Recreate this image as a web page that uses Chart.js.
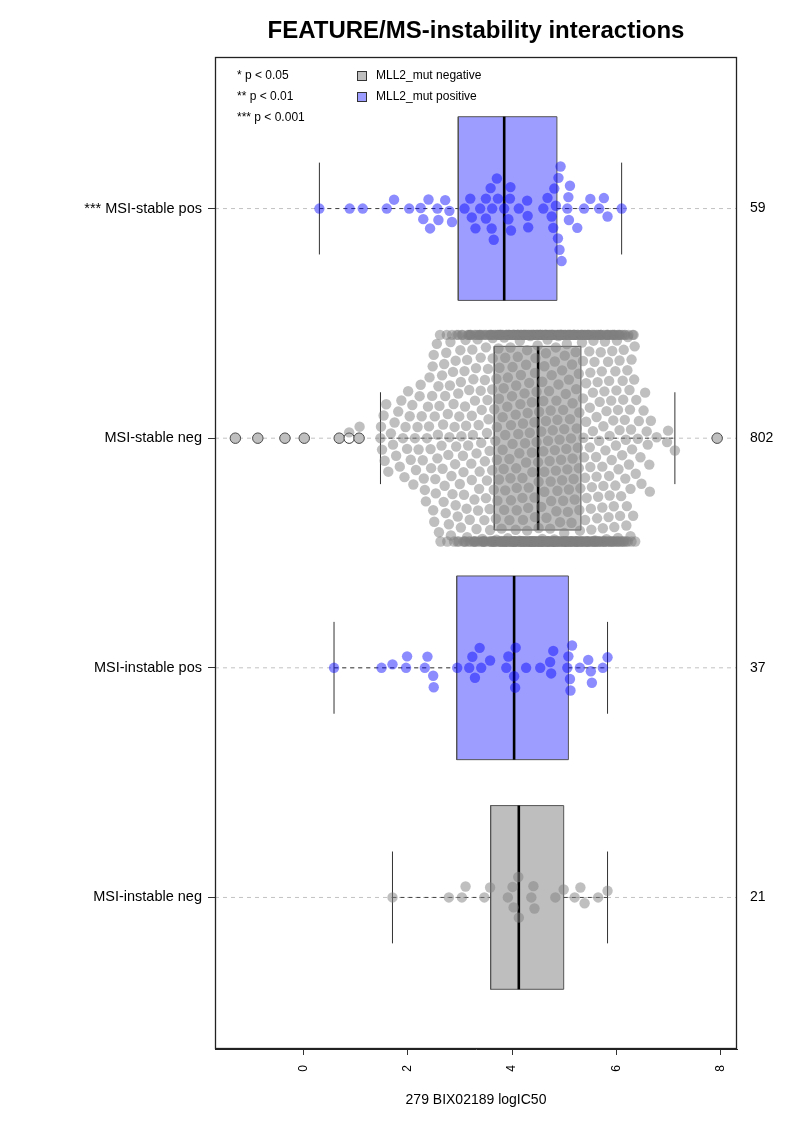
<!DOCTYPE html>
<html><head><meta charset="utf-8">
<script src="https://cdn.jsdelivr.net/npm/chart.js"></script>
<style>html,body{margin:0;padding:0;background:#fff;}#wrap{width:793px;height:1122px;position:relative;}</style>
</head><body><div id="wrap"><canvas id="c" width="793" height="1122"></canvas></div>
<script>
// ---------------- DATA ----------------
const title = 'FEATURE/MS-instability interactions';
const xTitle = '279 BIX02189 logIC50';
const categories = ['MSI-instable neg', 'MSI-instable pos', 'MSI-stable neg', '*** MSI-stable pos'];
const counts = [21, 37, 802, 59];
const mutStatus = ['negative', 'positive', 'negative', 'positive'];
const xTicks = [0, 2, 4, 6, 8];
const sigLabels = ['* p < 0.05', '** p < 0.01', '*** p < 0.001'];
const legendLabels = ['MLL2_mut negative', 'MLL2_mut positive'];

// box statistics per category (bottom to top)
const whiskerLow  = [1.71, 0.59, 1.48, 0.31];
const q1          = [3.59, 2.94, 3.66, 2.97];
const medians     = [4.13, 4.04, 4.50, 3.85];
const q3          = [4.99, 5.08, 5.32, 4.86];
const whiskerHigh = [5.83, 5.83, 7.12, 6.10];
const outliers = [[], [], [-1.30, -0.87, -0.35, 0.02, 0.69, 0.88, 1.07, 7.93], []];

const instableNeg = [1.71,2.79,3.04,3.11,3.47,3.58,3.92,4.01,4.03,4.12,4.13,4.37,4.41,4.43,4.83,4.99,5.20,5.31,5.39,5.65,5.83];
const instablePos = [0.59,1.50,1.71,1.97,1.99,2.33,2.38,2.49,2.50,2.95,3.18,3.24,3.29,3.38,3.41,3.58,3.89,3.93,4.04,4.06,4.07,4.27,4.54,4.73,4.75,4.79,5.06,5.08,5.11,5.12,5.15,5.30,5.46,5.51,5.53,5.74,5.83];
const stablePos = [0.31,0.89,1.14,1.60,1.74,2.03,2.25,2.30,2.40,2.43,2.57,2.59,2.72,2.80,2.85,3.09,3.20,3.23,3.30,3.39,3.50,3.50,3.59,3.61,3.62,3.65,3.71,3.73,3.85,3.93,3.96,3.97,3.98,4.13,4.29,4.30,4.31,4.60,4.68,4.76,4.79,4.81,4.84,4.88,4.89,4.91,4.93,4.95,5.06,5.08,5.09,5.11,5.25,5.38,5.50,5.67,5.76,5.83,6.10];
const stableNeg = [
-1.3,-0.87,-0.35,0.02,0.69,0.88,1.07,1.08,
1.48,1.49,1.51,1.54,1.56,1.59,1.63,1.68,1.72,1.75,1.78,1.82,1.85,1.88,1.91,1.94,1.96,1.99,
2.01,2.04,2.06,2.09,2.11,2.14,2.16,2.19,2.21,2.23,2.25,2.27,2.29,2.31,2.33,2.35,2.37,2.39,
2.41,2.42,2.44,2.45,2.47,2.48,2.49,2.5,2.51,2.52,2.53,2.54,2.56,2.57,2.58,2.59,
2.6,2.61,2.62,2.63,2.65,2.66,2.67,2.68,2.69,2.7,2.71,2.72,2.73,2.74,2.75,2.76,2.77,2.78,2.79,
2.8,2.81,2.82,2.83,2.84,2.85,2.86,2.87,2.88,2.89,2.9,2.91,2.92,2.92,2.93,2.94,2.95,2.96,2.97,2.97,2.98,2.99,
3,3.01,3.02,3.02,3.03,3.04,3.05,3.06,3.07,3.07,3.08,3.09,3.09,
3.1,3.11,3.11,3.12,3.13,3.14,3.14,3.15,3.16,3.17,3.17,3.18,3.19,3.19,
3.2,3.21,3.21,3.22,3.23,3.23,3.24,3.25,3.26,3.26,3.27,3.28,3.28,3.29,3.29,
3.3,3.3,3.31,3.32,3.32,3.33,3.34,3.35,3.35,3.36,3.37,3.37,3.38,3.38,3.39,3.39,
3.4,3.4,3.41,3.42,3.42,3.43,3.44,3.45,3.45,3.46,3.47,3.47,3.48,3.48,3.49,3.49,
3.5,3.5,3.51,3.52,3.52,3.53,3.54,3.55,3.55,3.56,3.57,3.57,3.58,3.58,3.59,3.59,
3.6,3.6,3.61,3.61,3.62,3.62,3.63,3.63,3.64,3.64,3.65,3.65,3.66,3.66,3.67,3.67,3.68,3.68,3.69,3.69,
3.7,3.7,3.71,3.71,3.72,3.72,3.73,3.73,3.74,3.74,3.75,3.75,3.75,3.76,3.76,3.77,3.77,3.78,3.78,3.79,3.79,
3.8,3.8,3.81,3.81,3.82,3.82,3.83,3.83,3.83,3.84,3.84,3.85,3.85,3.86,3.86,3.87,3.87,3.87,3.88,3.88,3.89,3.89,
3.9,3.9,3.91,3.91,3.92,3.92,3.92,3.93,3.93,3.94,3.94,3.95,3.95,3.95,3.96,3.96,3.97,3.97,3.98,3.98,3.98,3.99,3.99,
4,4,4.01,4.01,4.01,4.02,4.02,4.03,4.03,4.04,4.04,4.04,4.05,4.05,4.06,4.06,4.06,4.07,4.07,4.08,4.08,4.09,4.09,4.09,
4.1,4.1,4.11,4.11,4.11,4.12,4.12,4.13,4.13,4.14,4.14,4.14,4.15,4.15,4.16,4.16,4.16,4.17,4.17,4.18,4.18,4.19,4.19,4.19,
4.2,4.2,4.21,4.21,4.21,4.22,4.22,4.23,4.23,4.23,4.24,4.24,4.25,4.25,4.25,4.26,4.26,4.27,4.27,4.27,4.28,4.28,4.29,4.29,4.29,
4.3,4.3,4.31,4.31,4.31,4.32,4.32,4.33,4.33,4.33,4.34,4.34,4.35,4.35,4.35,4.36,4.36,4.37,4.37,4.37,4.38,4.38,4.39,4.39,4.39,
4.4,4.4,4.41,4.41,4.41,4.42,4.42,4.42,4.43,4.43,4.44,4.44,4.44,4.45,4.45,4.46,4.46,4.46,4.47,4.47,4.47,4.48,4.48,4.49,4.49,4.49,
4.5,4.5,4.5,4.51,4.51,4.52,4.52,4.52,4.53,4.53,4.54,4.54,4.54,4.55,4.55,4.55,4.56,4.56,4.57,4.57,4.57,4.58,4.58,4.59,4.59,4.59,
4.6,4.6,4.6,4.61,4.61,4.62,4.62,4.62,4.63,4.63,4.64,4.64,4.64,4.65,4.65,4.65,4.66,4.66,4.67,4.67,4.67,4.68,4.68,4.69,4.69,4.69,
4.7,4.7,4.71,4.71,4.71,4.72,4.72,4.73,4.73,4.73,4.74,4.74,4.75,4.75,4.75,4.76,4.76,4.77,4.77,4.77,4.78,4.78,4.79,4.79,4.79,
4.8,4.8,4.81,4.81,4.81,4.82,4.82,4.83,4.83,4.83,4.84,4.84,4.85,4.85,4.85,4.86,4.86,4.87,4.87,4.87,4.88,4.88,4.89,4.89,4.89,
4.9,4.9,4.91,4.91,4.91,4.92,4.92,4.93,4.93,4.94,4.94,4.94,4.95,4.95,4.96,4.96,4.96,4.97,4.97,4.98,4.98,4.99,4.99,4.99,
5,5,5.01,5.01,5.01,5.02,5.02,5.03,5.03,5.04,5.04,5.04,5.05,5.05,5.06,5.06,5.06,5.07,5.07,5.08,5.08,5.09,5.09,5.09,
5.1,5.1,5.11,5.11,5.12,5.12,5.12,5.13,5.13,5.14,5.14,5.15,5.15,5.15,5.16,5.16,5.17,5.17,5.18,5.18,5.18,5.19,5.19,
5.2,5.2,5.21,5.21,5.22,5.22,5.23,5.23,5.23,5.24,5.24,5.25,5.25,5.26,5.26,5.27,5.27,5.27,5.28,5.28,5.29,5.29,
5.3,5.3,5.31,5.31,5.32,5.32,5.33,5.33,5.34,5.34,5.35,5.35,5.35,5.36,5.36,5.37,5.37,5.38,5.38,5.39,5.39,
5.4,5.4,5.41,5.41,5.42,5.42,5.43,5.43,5.44,5.44,5.45,5.45,5.45,5.46,5.46,5.47,5.47,5.48,5.48,5.49,5.49,
5.5,5.5,5.51,5.51,5.52,5.52,5.53,5.53,5.54,5.54,5.55,5.55,5.56,5.56,5.57,5.57,5.58,5.58,5.59,5.59,
5.6,5.6,5.61,5.61,5.62,5.62,5.63,5.63,5.64,5.64,5.65,5.65,5.66,5.66,5.67,5.67,5.68,5.68,5.69,
5.7,5.7,5.71,5.71,5.72,5.72,5.73,5.73,5.74,5.74,5.75,5.75,5.76,5.76,5.77,5.77,5.78,5.78,5.79,
5.8,5.81,5.81,5.82,5.82,5.83,5.83,5.84,5.84,5.85,5.85,5.86,5.86,5.87,5.87,5.88,5.88,5.89,
5.9,5.91,5.91,5.92,5.92,5.93,5.93,5.94,5.94,5.95,5.95,5.96,5.96,5.97,5.97,5.98,5.98,5.99,
6,6.01,6.01,6.02,6.02,6.03,6.03,6.04,6.04,6.05,6.05,6.06,6.06,6.07,6.07,6.08,6.09,
6.1,6.11,6.11,6.12,6.13,6.13,6.14,6.15,6.15,6.16,6.17,6.17,6.18,6.19,6.19,
6.2,6.21,6.22,6.22,6.23,6.24,6.25,6.26,6.27,6.27,6.28,6.29,6.29,
6.3,6.31,6.32,6.33,6.34,6.35,6.36,6.37,6.38,
6.41,6.43,6.46,6.48,6.52,6.55,6.58,6.6,6.63,6.64,6.66,6.77,6.97,6.99,7.12,7.93
];
const groupValues = [instableNeg, instablePos, stableNeg, stablePos];

// ---------------- STYLE ----------------
const FONT = '"Liberation Sans", Arial, Helvetica, sans-serif';
const X_MIN = -1.69, X_MAX = 8.31, Y_MIN = 0.34, Y_MAX = 4.66;
const BOX_HALF = 0.4, CAP_HALF = 0.2, CORRAL = 0.45;
const SPACING = 11.5;   // swarm spacing in pixels
const boxFill = {negative: '#BEBEBE', positive: 'rgb(157,157,255)'};
const pointFill = {negative: 'rgba(128,128,128,0.5)', positive: 'rgba(0,0,255,0.45)'};

function lineDs(data, color, width, dash, order, extra) {
  return Object.assign({type: 'line', data: data, borderColor: color, borderWidth: width,
    borderDash: dash || [], pointRadius: 0, fill: false, tension: 0, order: order}, extra || {});
}

const datasets = [];
const pointDsIndex = [];
groupValues.forEach((vals, g) => {
  const pos = g + 1;
  const st = mutStatus[g];
  datasets.push(lineDs([{x: X_MIN, y: pos}, {x: X_MAX, y: pos}], '#c2c2c2', 1, [4, 4], 90));
  datasets.push(lineDs([{x: q1[g], y: pos - BOX_HALF}, {x: q3[g], y: pos - BOX_HALF}, {x: q3[g], y: pos + BOX_HALF},
    {x: q1[g], y: pos + BOX_HALF}, {x: q1[g], y: pos - BOX_HALF}], '#555', 1, [], 80,
    {fill: 'shape', backgroundColor: boxFill[st]}));
  datasets.push(lineDs([{x: whiskerLow[g], y: pos}, {x: q1[g], y: pos}], '#444', 1, [4, 4], 70));
  datasets.push(lineDs([{x: q3[g], y: pos}, {x: whiskerHigh[g], y: pos}], '#444', 1, [4, 4], 70));
  datasets.push(lineDs([{x: whiskerLow[g], y: pos - CAP_HALF}, {x: whiskerLow[g], y: pos + CAP_HALF}], '#333', 1, [], 70));
  datasets.push(lineDs([{x: whiskerHigh[g], y: pos - CAP_HALF}, {x: whiskerHigh[g], y: pos + CAP_HALF}], '#333', 1, [], 70));
  datasets.push(lineDs([{x: medians[g], y: pos - BOX_HALF}, {x: medians[g], y: pos + BOX_HALF}], '#000', 2.6, [], 60));
  if (outliers[g].length) {
    datasets.push({type: 'scatter', data: outliers[g].map(v => ({x: v, y: pos})), pointRadius: 5.2,
      pointBackgroundColor: '#fff', pointBorderColor: '#333', pointBorderWidth: 1, order: 50});
  }
  pointDsIndex[g] = datasets.length;
  datasets.push({type: 'scatter', data: vals.map(v => ({x: v, y: pos})), pointRadius: 5.2,
    pointBackgroundColor: pointFill[st], pointBorderWidth: 0, pointBorderColor: 'rgba(0,0,0,0)', order: 10});
});

const decor = {
  id: 'decor',
  afterDraw(chart) {
    const c = chart.ctx, a = chart.chartArea;
    c.save();
    c.strokeStyle = '#222'; c.lineWidth = 1.3;
    c.strokeRect(a.left + 0.5, a.top + 0.5, a.right - a.left - 1, a.bottom - a.top - 1);
    c.fillStyle = '#000';
    c.textAlign = 'center'; c.textBaseline = 'middle';
    c.font = 'bold 24px ' + FONT;
    c.fillText(title, (a.left + a.right) / 2, 31);
    c.font = '14px ' + FONT;
    c.fillText(xTitle, (a.left + a.right) / 2, 1100);
    c.font = '12px ' + FONT;
    c.textAlign = 'left';
    const rows = [76, 97, 118];
    sigLabels.forEach((s, i) => c.fillText(s, a.left + 22, rows[i]));
    legendLabels.forEach((s, i) => {
      c.fillStyle = i === 0 ? boxFill.negative : boxFill.positive;
      c.fillRect(357.5, rows[i] - 4.5, 9, 9);
      c.strokeStyle = '#333'; c.lineWidth = 1;
      c.strokeRect(357.5, rows[i] - 4.5, 9, 9);
      c.fillStyle = '#000';
      c.fillText(s, 376, rows[i]);
    });
    c.restore();
  }
};

const catTicks = s => { s.ticks = categories.map((_, i) => ({value: i + 1})); };

const chart = new Chart(document.getElementById('c'), {
  type: 'scatter',
  data: {datasets: datasets},
  options: {
    responsive: false, animation: false, devicePixelRatio: 1, events: [],
    layout: {padding: {top: 57, left: 0, right: 0, bottom: 0}},
    plugins: {legend: {display: false}, tooltip: {enabled: false}, title: {display: false}},
    scales: {
      x: {type: 'linear', position: 'bottom', min: X_MIN, max: X_MAX,
        afterBuildTicks: s => { s.ticks = xTicks.map(v => ({value: v})); },
        afterFit: s => { s.height = 73; },
        grid: {drawOnChartArea: false, drawTicks: true, tickLength: 6, color: '#333'},
        border: {display: true, color: '#222'},
        ticks: {minRotation: 90, maxRotation: 90, autoSkip: false, padding: 10, color: '#000',
          font: {family: FONT, size: 12}, callback: v => String(v)}},
      y: {type: 'linear', position: 'left', min: Y_MIN, max: Y_MAX,
        afterBuildTicks: catTicks,
        afterFit: s => { s.width = 215; },
        grid: {drawOnChartArea: false, drawTicks: true, tickLength: 7, color: '#333'},
        border: {display: true, color: '#222'},
        ticks: {padding: 6, color: '#000', font: {family: FONT, size: 14.5}, callback: v => categories[v - 1]}},
      y2: {type: 'linear', position: 'right', min: Y_MIN, max: Y_MAX,
        afterBuildTicks: catTicks,
        afterFit: s => { s.width = 56; },
        grid: {drawOnChartArea: false, drawTicks: false},
        border: {display: false},
        ticks: {padding: 13, color: '#000', font: {family: FONT, size: 14}, callback: v => String(counts[v - 1])}}
    }
  },
  plugins: [decor]
});

// beeswarm ("swarm", ascending priority) computed in pixel space
function swarmOffsets(vals, toPx, D) {
  const order = vals.map((v, i) => i).sort((a, b) => vals[a] - vals[b]);
  const px = [], py = [], out = new Array(vals.length);
  const D2 = D * D;
  for (const i of order) {
    const x = toPx(vals[i]);
    const near = [];
    for (let k = px.length - 1; k >= 0; k--) { if (x - px[k] >= D) break; near.push(k); }
    const cands = [0];
    for (const k of near) { const dx = x - px[k]; cands.push(py[k] + Math.sqrt(D2 - dx * dx)); }
    for (const k of near) { const dx = x - px[k]; cands.push(py[k] - Math.sqrt(D2 - dx * dx)); }
    let best = 0, bestAbs = Infinity;
    for (const cnd of cands) {
      const ab = Math.abs(cnd);
      if (ab >= bestAbs) continue;
      let ok = true;
      for (const k of near) {
        const dx = x - px[k], dy = cnd - py[k];
        if (dx * dx + dy * dy < D2 - 1e-3) { ok = false; break; }
      }
      if (ok) { best = cnd; bestAbs = ab; }
    }
    px.push(x); py.push(best); out[i] = best;
  }
  return out;
}

const xs = chart.scales.x, ys = chart.scales.y;
const pxPerY = Math.abs(ys.getPixelForValue(0) - ys.getPixelForValue(1));
groupValues.forEach((vals, g) => {
  const offs = swarmOffsets(vals, v => xs.getPixelForValue(v), SPACING);
  chart.data.datasets[pointDsIndex[g]].data = vals.map((v, i) => ({
    x: v, y: (g + 1) + Math.max(-CORRAL, Math.min(CORRAL, offs[i] / pxPerY))
  }));
});
chart.update('none');
</script></body></html>
